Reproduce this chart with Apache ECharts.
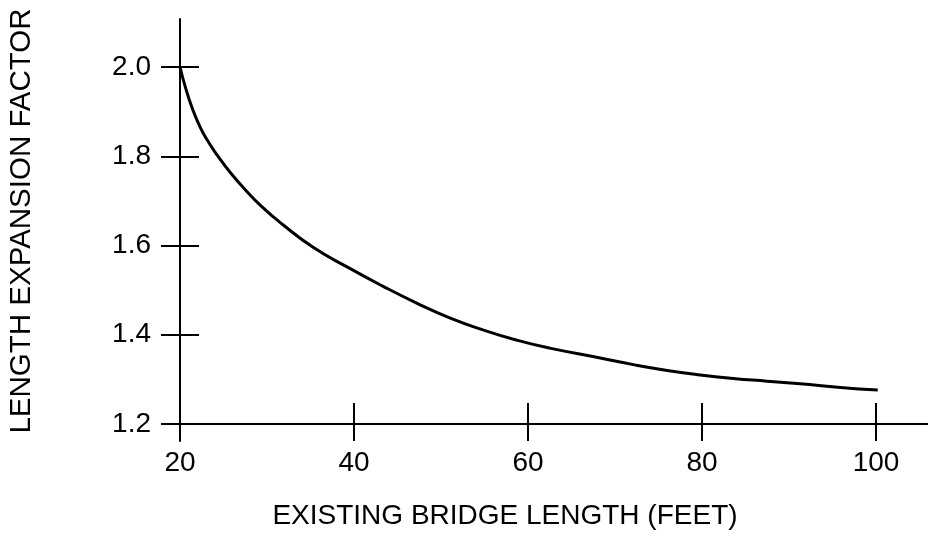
<!DOCTYPE html>
<html>
<head>
<meta charset="utf-8">
<script src="https://cdn.jsdelivr.net/npm/echarts@6/dist/echarts.min.js"></script>
<style>
  html, body { margin: 0; padding: 0; background: #fff; }
  #main { width: 928px; height: 547px; }
</style>
</head>
<body>
<div id="main"></div>
<script>
// curve
var lengthFeet = [20, 20.6, 21.4, 22.3, 23.2, 24.4, 25.8, 27.5, 29.4, 31.8, 35.3, 39.2, 43.3, 47.2, 51, 54.8, 58.7, 62.5, 68.3, 72.1, 76, 79.8, 83.6, 87.5, 91.3, 95.9, 100.2];
var expansion = [2.0, 1.956, 1.908, 1.866, 1.834, 1.799, 1.763, 1.725, 1.687, 1.647, 1.596, 1.552, 1.509, 1.471, 1.438, 1.411, 1.388, 1.37, 1.348, 1.333, 1.32, 1.31, 1.302, 1.296, 1.29, 1.282, 1.276];
var xTicks = [20, 40, 60, 80, 100];
var yTicks = [1.2, 1.4, 1.6, 1.8, 2.0];
var xTitle = 'EXISTING BRIDGE LENGTH (FEET)';
var yTitle = 'LENGTH EXPANSION FACTOR';

var font = '"Liberation Sans", Arial, Helvetica, sans-serif';
var xMin = 18.161, xMax = 105.977;
var yMin = 1.1619, yMax = 2.1076;

function xAx(inside, len, showLine, showLabel) {
  return {
    type: 'value', min: xMin, max: xMax, position: 'bottom', offset: -17,
    axisLine: { show: showLine, lineStyle: { color: '#000', width: 2 } },
    axisTick: { show: true, inside: inside, length: len, customValues: xTicks,
      lineStyle: { color: '#000', width: 2 } },
    axisLabel: { show: showLabel, customValues: xTicks, margin: 25, color: '#000',
      fontSize: 28, fontFamily: font },
    splitLine: { show: false }
  };
}
function yAx(inside, len, showLine, showLabel) {
  return {
    type: 'value', min: yMin, max: yMax, position: 'left', offset: -16,
    axisLine: { show: showLine, lineStyle: { color: '#000', width: 2 } },
    axisTick: { show: true, inside: inside, length: len, customValues: yTicks,
      lineStyle: { color: '#000', width: 2 } },
    axisLabel: { show: showLabel, customValues: yTicks, margin: 29, color: '#000',
      fontSize: 28, fontFamily: font,
      formatter: function (v) { return v.toFixed(1); } },
    splitLine: { show: false }
  };
}

var data = lengthFeet.map(function (x, i) { return [x, expansion[i]]; });

var chart = echarts.init(document.getElementById('main'), null, { renderer: 'canvas' });
chart.setOption({
  animation: false,
  backgroundColor: '#fff',
  grid: { left: 164, right: 0, top: 19, bottom: 106, containLabel: false },
  xAxis: [xAx(true, 21, true, true), xAx(false, 17, false, false)],
  yAxis: [yAx(true, 19, true, true), yAx(false, 19, false, false)],
  graphic: [
    { type: 'text', x: 505, y: 516,
      style: { text: xTitle, fill: '#000', font: '28px ' + font,
        textAlign: 'center', textVerticalAlign: 'middle' } },
    { type: 'text', x: 22, y: 221, rotation: Math.PI / 2,
      style: { text: yTitle, fill: '#000', font: '29.5px ' + font,
        textAlign: 'center', textVerticalAlign: 'middle' } }
  ],
  series: [{
    type: 'line',
    data: data,
    smooth: 0.5,
    showSymbol: false,
    lineStyle: { color: '#000', width: 3 }
  }]
});
</script>
</body>
</html>
